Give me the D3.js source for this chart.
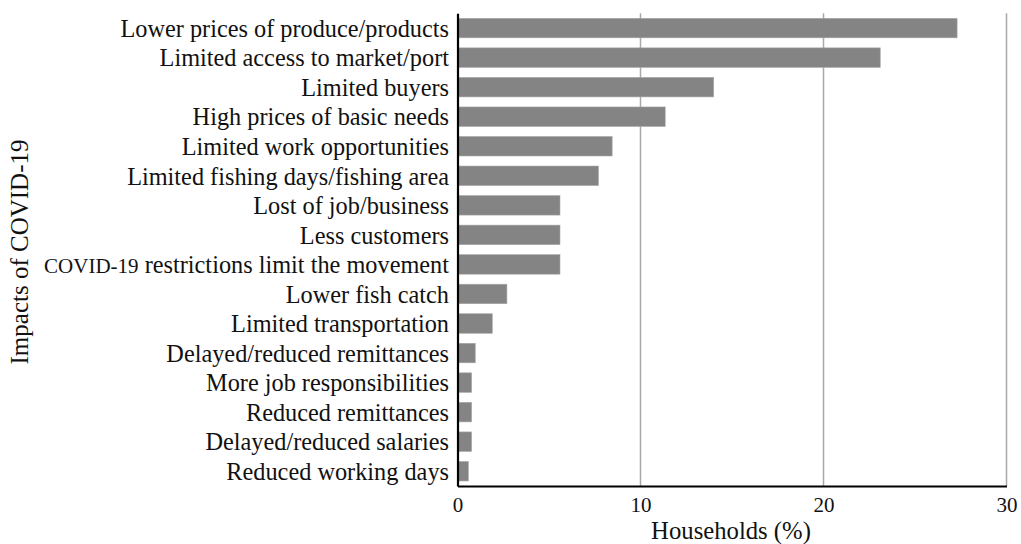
<!DOCTYPE html>
<html><head><meta charset="utf-8">
<script src="https://cdn.jsdelivr.net/npm/d3@7"></script>
</head>
<body style="margin:0">
<svg id="chart" width="1021" height="544"></svg>
<script>
const categories = [
  "Lower prices of produce/products",
  "Limited access to market/port",
  "Limited buyers",
  "High prices of basic needs",
  "Limited work opportunities",
  "Limited fishing days/fishing area",
  "Lost of job/business",
  "Less customers",
  "COVID-19 restrictions limit the movement",
  "Lower fish catch",
  "Limited transportation",
  "Delayed/reduced remittances",
  "More job responsibilities",
  "Reduced remittances",
  "Delayed/reduced salaries",
  "Reduced working days"
];
const values = [27.3, 23.1, 14.0, 11.35, 8.45, 7.7, 5.6, 5.6, 5.6, 2.7, 1.9, 0.97, 0.77, 0.77, 0.77, 0.59];
const xTicks = [0, 10, 20, 30];
const xTitle = "Households (%)";
const yTitle = "Impacts of COVID-19";

(function() {
const FONT = '"Times New Roman"';
const svg = d3.select("#chart");
const mLeft = 457.5, mRight = 1006.5, mTop = 13.3, mBottom = 486;

const x = d3.scaleLinear().domain([0, 30]).range([mLeft, mRight]);
const y = d3.scaleBand().domain(categories).range([mTop, mBottom]).paddingInner(0.34).paddingOuter(0.17);

svg.append("g").selectAll("line").data(xTicks.filter(d => d > 0)).join("line")
  .attr("x1", d => x(d)).attr("x2", d => x(d))
  .attr("y1", mTop).attr("y2", mBottom)
  .attr("stroke", "#a9a9a9").attr("stroke-width", 1.5);

svg.append("g").selectAll("rect").data(categories).join("rect")
  .attr("x", x(0))
  .attr("y", d => y(d))
  .attr("width", (d, i) => x(values[i]) - x(0))
  .attr("height", y.bandwidth())
  .attr("fill", "#848484")
  .attr("stroke", "#a6a6a6").attr("stroke-width", 0.6);

const xAxis = d3.axisBottom(x).tickValues(xTicks).tickSize(0).tickPadding(11);
const gx = svg.append("g").attr("transform", `translate(0,${mBottom})`).call(xAxis);
gx.attr("font-family", null);
gx.select(".domain").attr("stroke", "#000").attr("stroke-width", 2.2);
gx.selectAll("text").style("font-family", FONT).attr("font-size", 21).attr("fill", "#111");

const yAxis = d3.axisLeft(y).tickSize(0).tickPadding(8.5);
const gy = svg.append("g").attr("transform", `translate(${mLeft},0)`).call(yAxis);
gy.attr("font-family", null);
gy.select(".domain").attr("stroke", "#000").attr("stroke-width", 2.2);
gy.selectAll("text").style("font-family", FONT).attr("font-size", 24.3).attr("fill", "#111")
  .attr("dy", "0.36em")
  .each(function(d) {
    if (d.startsWith("COVID-19")) {
      const t = d3.select(this);
      t.text(null);
      t.append("tspan").attr("font-size", 21).text("COVID-19");
      t.append("tspan").text(d.slice(8));
    }
  });

svg.append("text").attr("x", 731).attr("y", 539).attr("text-anchor", "middle")
  .style("font-family", FONT).attr("font-size", 24.7).attr("fill", "#111").text(xTitle);
svg.append("text").attr("transform", "translate(28,252) rotate(-90)").attr("text-anchor", "middle")
  .style("font-family", FONT).attr("font-size", 25).attr("fill", "#111").text(yTitle);
})();
</script>
</body></html>
